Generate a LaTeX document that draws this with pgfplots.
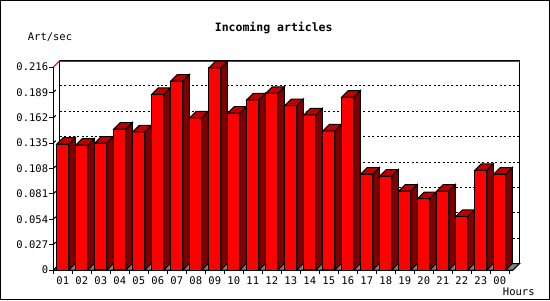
\documentclass[border=0pt]{standalone}
\usepackage{pgfplots}
\pgfplotsset{compat=1.18}
\usepackage{pgfplotstable}
\usepackage{fontspec}
\setmainfont{DejaVu Sans Mono}
\setmonofont{DejaVu Sans Mono}
\definecolor{barfront}{HTML}{FF0000}
\definecolor{barside}{HTML}{800000}
\definecolor{bartop}{HTML}{C00000}
\definecolor{floorgray}{HTML}{808080}

\pgfplotstableread{
x v
0.5 0.134
1.5 0.133
2.5 0.135
3.5 0.150
4.5 0.147
5.5 0.187
6.5 0.201
7.5 0.162
8.5 0.215
9.5 0.167
10.5 0.181
11.5 0.188
12.5 0.175
13.5 0.165
14.5 0.148
15.5 0.184
16.5 0.102
17.5 0.100
18.5 0.084
19.5 0.076
20.5 0.084
21.5 0.057
22.5 0.106
23.5 0.102
}\articles

\begin{document}
\begin{tikzpicture}
\begin{axis}[
  x=19pt, y=939.8pt,
  xmin=0, xmax=24, ymin=0, ymax=0.216,
  enlargelimits=false,
  clip=false,
  axis x line*=bottom, axis y line*=left,
  axis line style={draw=none},
  xtick={0,1,...,24},
  x tick label as interval,
  xticklabels={01,02,03,04,05,06,07,08,09,10,11,12,13,14,15,16,17,18,19,20,21,22,23,00},
  ytick={0,0.027,0.054,0.081,0.108,0.135,0.162,0.189,0.216},
  yticklabels={0,0.027,0.054,0.081,0.108,0.135,0.162,0.189,0.216},
  tick align=outside,
  major tick length=4pt,
  tick style={black, line width=1pt},
  ticklabel style={font=\fontsize{10.5}{12}\selectfont},
  yticklabel style={anchor=east, inner sep=0pt, xshift=-1pt},
  xticklabel style={anchor=north, inner sep=0pt, yshift=-3pt},
]
% back wall
\draw[line width=1pt, fill=white] ([shift={(6.5pt,6.5pt)}]axis cs:0,0) rectangle ([shift={(6.5pt,6.5pt)}]axis cs:24.2,0.216);
% grid
\pgfplotsinvokeforeach{0.027,0.054,0.081,0.108,0.135,0.162,0.189}{
  \draw[line width=1pt, dash pattern=on 2pt off 2.4pt] ([shift={(6.5pt,6.5pt)}]axis cs:0,#1) -- ([shift={(6.5pt,6.5pt)}]axis cs:24.2,#1);
  \draw[line width=1pt] (axis cs:0,#1) -- ([shift={(2.5pt,2.5pt)}]axis cs:0,#1);
}
% red top line
\draw[line width=1pt, red] ([shift={(6.5pt,5.5pt)}]axis cs:0,0.216) -- ([shift={(6.5pt,5.5pt)}]axis cs:24.2,0.216);
\draw[line width=1pt, red] (axis cs:0,0.216) -- ([shift={(6.5pt,6.5pt)}]axis cs:0,0.216);
% floor
\filldraw[fill=floorgray, draw=black, line width=1pt] (axis cs:0,0) -- (axis cs:24.2,0) -- ([shift={(6.5pt,6.5pt)}]axis cs:24.2,0) -- ([shift={(6.5pt,6.5pt)}]axis cs:0,0) -- cycle;
% bars
\addplot[
  scatter, only marks, mark=*, mark size=0.1pt,
  mark options={draw=none, fill=none},
  visualization depends on={\thisrow{v} \as \val},
  scatter/@pre marker code/.code={%
    \pgfmathsetmacro\hh{\val*939.8}%
    \pgfmathsetmacro\hs{6.5-\val*939.8}%
    \filldraw[fill=barfront, draw=black, line width=1pt] (-6pt,-\hh pt) rectangle (6pt,0pt);
    \filldraw[fill=barside, draw=black, line width=1pt] (6pt,-\hh pt) -- (12.5pt,\hs pt) -- (12.5pt,6.5pt) -- (6pt,0pt) -- cycle;
    \filldraw[fill=bartop, draw=black, line width=1pt] (-6pt,0pt) -- (0.5pt,6.5pt) -- (12.5pt,6.5pt) -- (6pt,0pt) -- cycle;
  },
  scatter/@post marker code/.code={},
] table[x=x, y=v] {\articles};
% front axis lines
\draw[line width=1pt] (axis cs:0,0.216) -- (axis cs:0,0) -- (axis cs:24.2,0);
% texts
\node[font=\bfseries\fontsize{11.5}{13}\selectfont] at (axis cs:11.6,0.2576) {Incoming articles};
\node[font=\fontsize{10.5}{12}\selectfont] at (axis cs:-0.174,0.2479) {Art/sec};
\node[font=\fontsize{10.5}{12}\selectfont] at (axis cs:24.5,-0.0234) {Hours};
\coordinate (bl) at (axis cs:-2.805,-0.03192);
\coordinate (tr) at (axis cs:26.142,0.2873);
\end{axis}
\pgfresetboundingbox
\useasboundingbox (bl) rectangle (tr);
\draw[line width=1pt] ([shift={(0.5pt,0.5pt)}]bl) rectangle ([shift={(-0.5pt,-0.5pt)}]tr);
\end{tikzpicture}
\end{document}
